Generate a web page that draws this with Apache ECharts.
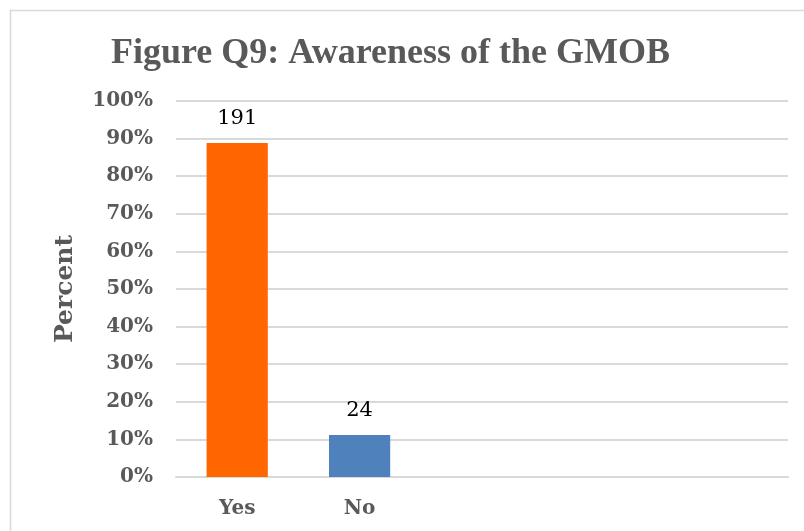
<!DOCTYPE html>
<html>
<head>
<meta charset="utf-8">
<script src="https://cdn.jsdelivr.net/npm/echarts@6/dist/echarts.min.js"></script>
<style>
  html, body { margin: 0; padding: 0; background: #fff; }
  #chart { width: 804px; height: 531px; }
</style>
</head>
<body>
<div id="chart"></div>
<script>
// Survey responses to Q9
const categories = ['Yes', 'No', '', '', ''];
const counts = [191, 24];
const barColors = ['#ff6600', '#4f81bd'];
const yTicks = [0, 10, 20, 30, 40, 50, 60, 70, 80, 90, 100];

const total = counts.reduce((a, b) => a + b, 0);
const percents = counts.map(c => c / total * 100);

const titleFont = '"Liberation Serif", serif';
const serif = '"DejaVu Serif", serif';
const chart = echarts.init(document.getElementById('chart'));

chart.setOption({
  animation: false,
  title: {
    text: 'Figure Q9: Awareness of the GMOB',
    left: 106,
    top: 31,
    textStyle: { fontFamily: titleFont, fontSize: 36, fontWeight: 'bold', color: '#595959' }
  },
  graphic: [{
    type: 'rect',
    shape: { x: 10.5, y: 10.5, width: 820, height: 540 },
    style: { fill: null, stroke: '#d9d9d9', lineWidth: 1.5 },
    silent: true
  }],
  grid: { left: 176, right: 16, top: 101, bottom: 54 },
  xAxis: {
    type: 'category',
    data: categories,
    axisLine: { lineStyle: { color: '#d9d9d9', width: 2 } },
    axisTick: { show: false },
    axisLabel: { fontFamily: serif, fontSize: 20, fontWeight: 'bold', color: '#595959', margin: 22 }
  },
  yAxis: {
    type: 'value',
    min: yTicks[0],
    max: yTicks[yTicks.length - 1],
    interval: 10,
    name: 'Percent',
    nameLocation: 'middle',
    nameGap: 98,
    nameTextStyle: { fontFamily: serif, fontSize: 25, fontWeight: 'bold', color: '#595959' },
    axisLine: { show: false },
    axisTick: { show: false },
    splitLine: { lineStyle: { color: '#d9d9d9', width: 2 } },
    axisLabel: {
      fontFamily: serif, fontSize: 20, fontWeight: 'bold', color: '#595959', margin: 23,
      formatter: v => v + '%'
    }
  },
  series: [{
    type: 'bar',
    barWidth: '50%',
    data: percents.map((p, i) => ({
      value: p,
      itemStyle: { color: barColors[i] },
      label: {
        show: true,
        position: 'top',
        distance: 14,
        formatter: String(counts[i]),
        fontFamily: serif,
        fontSize: 21,
        color: '#000'
      }
    }))
  }]
});
</script>
</body>
</html>
